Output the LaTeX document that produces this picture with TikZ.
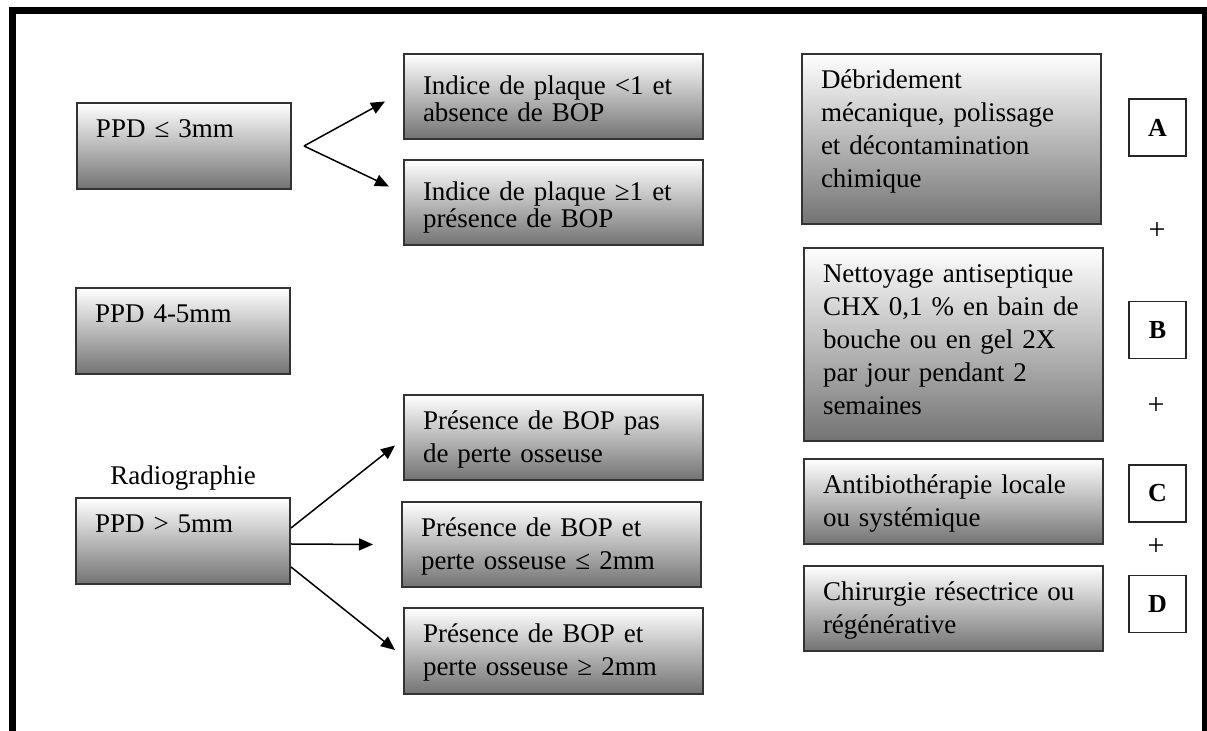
\documentclass[tikz,border=0pt]{standalone}
\usepackage{fontspec}
\setmainfont{Liberation Serif}
\usepackage{tikz}
\usetikzlibrary{arrows.meta,positioning}

\begin{document}
\begin{tikzpicture}[
    x=0.5pt, y=-0.5pt,
    box/.style={rectangle, draw=black!80, line width=1pt, top color=white, bottom color=black!55, anchor=north west, align=left, inner xsep=9.5pt, inner ysep=0pt, text height=17.5pt, font=\fontsize{13.5}{16.5}\selectfont},
    wide/.style={box, text width=130.5pt},
    small/.style={box, text width=88pt},
    tight/.style={wide, text height=20.5pt, font=\fontsize{13.5}{13.5}\selectfont},
    tag/.style={rectangle, draw=black!85, line width=0.8pt, fill=white, minimum size=28.5pt, inner sep=0pt, font=\fontsize{13}{15}\selectfont\bfseries},
    plus/.style={inner sep=0pt, font=\fontsize{15}{17}\selectfont},
    arrow/.style={->, line width=0.75pt, >={Triangle[length=7pt, width=6pt]}}
]

\useasboundingbox (0,0) rectangle (1207,731);
\draw[line width=3.5pt] (12,731) -- (12,10.5) -- (1205,10.5) -- (1205,731);

\node[small, text depth=25.5pt] (ppdlow) at (76,102) {PPD ≤ 3mm};
\node[small, text depth=25.5pt] (ppdmid) at (75,287) {PPD 4-5mm};
\node[small, text depth=25.5pt] (ppdhigh) at (75,497) {PPD > 5mm};
\node[above=0pt of ppdhigh, font=\fontsize{13.5}{15}\selectfont] (radio) {Radiographie};

\node[tight, text depth=22pt] (plaqueok) at (403,53) {Indice de plaque <1 et\\absence de BOP};
\node[tight, text depth=22pt] (plaquebop) at (403,159) {Indice de plaque ≥1 et\\présence de BOP};

\node[wide, text depth=25pt] (bopnoloss) at (403,394) {Présence de BOP pas\\de perte osseuse};
\node[wide, text depth=25pt] (boplow) at (401,501) {Présence de BOP et\\perte osseuse ≤ 2mm};
\node[wide, text depth=25.5pt] (bophigh) at (403,607) {Présence de BOP et\\perte osseuse ≥ 2mm};

\node[wide, text depth=67.5pt] (debride) at (801,53) {Débridement\\mécanique, polissage\\et décontamination\\chimique};
\node[wide, text depth=79pt] (rinse) at (803,247) {Nettoyage antiseptique\\CHX 0,1 \% en bain de\\bouche ou en gel 2X\\par jour pendant 2\\semaines};
\node[wide, text depth=25pt] (antibio) at (803,458) {Antibiothérapie locale\\ou systémique};
\node[wide, text depth=25pt] (surgery) at (803,565) {Chirurgie résectrice ou\\régénérative};

\node[tag] (taga) at (1157.5,127.5) {A};
\node[tag] (tagb) at (1157.5,330) {B};
\node[tag] (tagc) at (1157.5,493.5) {C};
\node[tag] (tagd) at (1157.5,604) {D};
\node[plus] (plusab) at (1157,231) {+};
\node[plus] (plusbc) at (1156,406) {+};
\node[plus] (pluscd) at (1156,547) {+};

\coordinate[right=6pt of ppdlow] (fork);
\draw[arrow] (fork) -- ([shift={(-18,5)}]plaqueok.west);
\draw[arrow] (fork) -- ([shift={(-14,-16)}]plaquebop.west);

\draw[arrow] ([shift={(0,-13)}]ppdhigh.east) -- ([shift={(-8,8)}]bopnoloss.west);
\draw[arrow] ([shift={(0,3)}]ppdhigh.east) -- ([shift={(-28,0)}]boplow.west);
\draw[arrow] ([shift={(0,26)}]ppdhigh.east) -- ([shift={(-8,-1)}]bophigh.west);

\end{tikzpicture}
\end{document}
